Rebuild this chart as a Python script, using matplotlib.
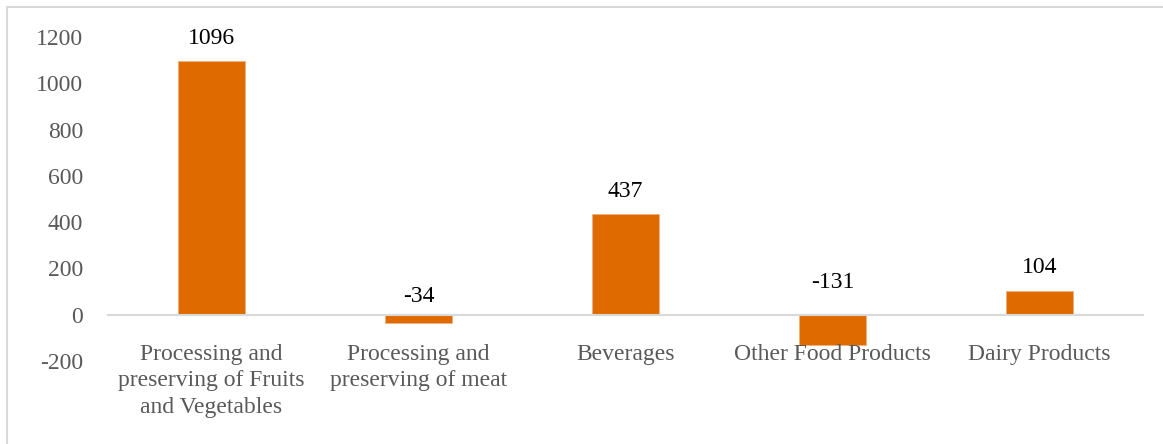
import matplotlib.pyplot as plt
from matplotlib.patches import Rectangle

categories = ['Processing and\npreserving of Fruits\nand Vegetables',
              'Processing and\npreserving of meat',
              'Beverages',
              'Other Food Products',
              'Dairy Products']
values = [1096, -34, 437, -131, 104]
# where each data label sits (labels of negative bars were placed above the axis)
label_y = [1195, 78, 532, 138, 205]
yticks = [-200, 0, 200, 400, 600, 800, 1000, 1200]

plt.rcParams['font.family'] = ['Liberation Serif', 'DejaVu Serif']

W, H = 1163, 444
fig = plt.figure(figsize=(W / 100, H / 100), dpi=100)
ax = fig.add_axes([108 / W, 1 - 361 / H, (1143 - 108) / W, (361 - 37) / H])

x = range(len(categories))
ax.bar(x, values, width=0.32, color='#DE6A00', edgecolor='#F0B080', linewidth=0.6, zorder=1)

for xi, v, ly in zip(x, values, label_y):
    ax.text(xi, ly, str(v), ha='center', va='center', fontsize=17, color='black')

ax.set_xlim(-0.5, len(categories) - 0.5)
ax.set_ylim(-200, 1200)
ax.set_yticks(yticks)
ax.set_yticklabels([str(t) for t in yticks])
ax.set_xticks(list(x))
ax.set_xticklabels(categories)

for s in ['top', 'right', 'left']:
    ax.spines[s].set_visible(False)
ax.spines['bottom'].set_position(('data', 0))
ax.spines['bottom'].set_color('#D9D9D9')
ax.spines['bottom'].set_linewidth(1.5)
ax.spines['bottom'].set_zorder(2)

ax.tick_params(axis='y', length=0, pad=18, labelsize=17, labelcolor='#595959')
ax.tick_params(axis='x', length=0, pad=21, labelsize=17, labelcolor='#595959')
for t in ax.get_xticklabels():
    t.set_linespacing(1.35)

# outer chart border (top and left visible, the rest runs off the picture)
fig.patches.append(Rectangle((6.5 / W, -0.1), 1.2, 1 - 7.5 / H + 0.1,
                             transform=fig.transFigure, fill=False,
                             edgecolor='#D9D9D9', linewidth=1.5))

fig.savefig('out.png', dpi=100)
